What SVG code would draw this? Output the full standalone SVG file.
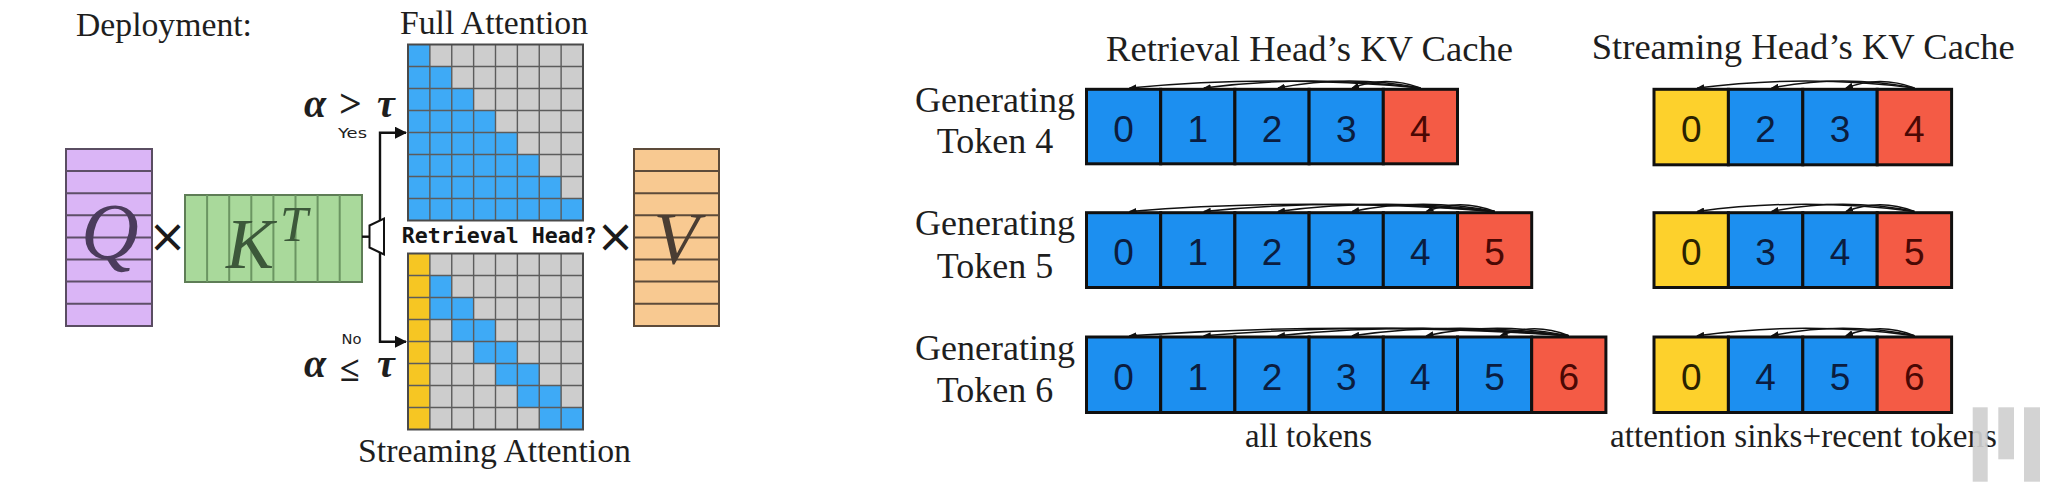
<svg xmlns="http://www.w3.org/2000/svg" width="2045" height="499" viewBox="0 0 2045 499">
<defs>
<style>
.serif{font-family:"Liberation Serif","Times New Roman",serif;fill:#1e1e1e}
.lbl{font-size:33.5px}
.title{font-size:36.4px}
.gen{font-size:36px;text-anchor:middle}
.math{font-family:"Liberation Serif","DejaVu Serif",serif;font-style:italic;font-weight:bold;font-size:40px;fill:#1e1e1e}
.small{font-family:"DejaVu Sans","Liberation Sans",sans-serif;font-size:14px;fill:#1e1e1e}
.times{font-family:"DejaVu Sans","Liberation Sans",sans-serif;font-size:46px;fill:#1a1a1a;text-anchor:middle}
.mono{font-family:"DejaVu Sans Mono","Liberation Mono",monospace;font-weight:bold;font-size:21.6px;fill:#141414}
.big{font-family:"Liberation Serif","Times New Roman",serif;font-style:italic;text-anchor:middle}
.gray{fill:#cdcdcd}
.ab{fill:#3eaaf6}
.ay{fill:#f6c623}
.gl{fill:none;stroke:#5c5c5c;stroke-width:1.4}
.gb{fill:none;stroke:#4a4a4a;stroke-width:2}
.cell{stroke:#101010;stroke-width:3}
.cb{fill:#1c8ff0}
.cr{fill:#f45b45}
.cy{fill:#fdd12c}
.dg{font-family:"Liberation Sans",Arial,sans-serif;font-size:37px;text-anchor:middle}
.db{fill:#0b1d40}
.dr{fill:#4a0804}
.dy{fill:#2a2200}
.arc{fill:none;stroke:#111;stroke-width:1.5;marker-end:url(#ah)}
.conn{fill:none;stroke:#111;stroke-width:2.4}
</style>
<marker id="ah" viewBox="0 0 8 6" refX="7" refY="3" markerWidth="8" markerHeight="6" markerUnits="userSpaceOnUse" orient="auto">
<path d="M0,0 L8,3 L0,6 z" fill="#111"/>
</marker>
<marker id="arr" viewBox="0 0 12 12" refX="11" refY="6" markerWidth="12" markerHeight="12" markerUnits="userSpaceOnUse" orient="auto">
<path d="M0,0 L12,6 L0,12 z" fill="#111"/>
</marker>
</defs>
<rect width="2045" height="499" fill="#ffffff"/>

<text class="serif lbl" x="76" y="36" textLength="176" lengthAdjust="spacingAndGlyphs">Deployment:</text>

<g id="q-matrix">
<rect x="66" y="149" width="86" height="177" fill="#dab5f6" stroke="#5a4d62" stroke-width="2"/>
<path d="M66,171.1H152M66,193.2H152M66,215.3H152M66,237.4H152M66,259.5H152M66,281.6H152M66,303.7H152" stroke="#5e4f68" stroke-width="2"/>
<text class="big" x="110" y="259" font-size="80" fill="#4b3c5c">Q</text>
</g>

<text class="times" x="167.5" y="252">×</text>

<g id="kt-matrix">
<rect x="185" y="195" width="177" height="87" fill="#a9d99b" stroke="#5e7d56" stroke-width="2"/>
<path d="M207.1,195V282M229.2,195V282M251.3,195V282M273.4,195V282M295.5,195V282M317.6,195V282M339.7,195V282" stroke="#6b9562" stroke-width="2"/>
<text font-family="Liberation Serif, Times New Roman, serif" font-style="italic" font-size="72" fill="#3c583a" x="226" y="268">K<tspan font-size="50" dx="6" dy="-27">T</tspan></text>
</g>

<g id="connectors">
<path class="conn" d="M362,236.7H370"/>
<path class="conn" d="M380,220V132.7H406" marker-end="url(#arr)"/>
<path class="conn" d="M380,253V341.7H406" marker-end="url(#arr)"/>
</g>

<g id="router">
<path d="M369.5,225.5 L384,218.5 L384,254.5 L369.5,247.5 Z" fill="#ffffff" stroke="#111" stroke-width="2"/>
</g>

<g id="cond-yes">
<text class="math" x="304" y="117">α</text>
<text class="math" x="339" y="117" style="font-style:normal">&gt;</text>
<text class="math" x="377" y="117">τ</text>
<text class="small" x="338" y="137.5" textLength="29" lengthAdjust="spacingAndGlyphs">Yes</text>
</g>
<g id="cond-no">
<text class="small" x="341.5" y="344.3" textLength="20" lengthAdjust="spacingAndGlyphs">No</text>
<text class="math" x="304" y="376.7">α</text>
<text class="math" x="340" y="380.5" style="font-style:normal;font-size:36px">≤</text>
<text class="math" x="377" y="376.7">τ</text>
</g>

<g id="full-attention">
<text class="serif lbl" x="400" y="34.3" textLength="188" lengthAdjust="spacingAndGlyphs">Full Attention</text>
<rect x="408" y="44.5" width="175" height="176" class="gray"/>
<rect class="ab" x="408" y="44.5" width="21.875" height="22"/>
<rect class="ab" x="408" y="66.5" width="43.75" height="22"/>
<rect class="ab" x="408" y="88.5" width="65.625" height="22"/>
<rect class="ab" x="408" y="110.5" width="87.5" height="22"/>
<rect class="ab" x="408" y="132.5" width="109.375" height="22"/>
<rect class="ab" x="408" y="154.5" width="131.25" height="22"/>
<rect class="ab" x="408" y="176.5" width="153.125" height="22"/>
<rect class="ab" x="408" y="198.5" width="175" height="22"/>
<path class="gl" d="M429.875,44.5V220.5M451.75,44.5V220.5M473.625,44.5V220.5M495.5,44.5V220.5M517.375,44.5V220.5M539.25,44.5V220.5M561.125,44.5V220.5M408,66.5H583M408,88.5H583M408,110.5H583M408,132.5H583M408,154.5H583M408,176.5H583M408,198.5H583"/>
<rect class="gb" x="408" y="44.5" width="175" height="176"/>
</g>

<text class="mono" x="401.7" y="243.3">Retrieval Head?</text>

<g id="streaming-attention">
<rect x="408" y="253.5" width="175" height="176" class="gray"/>
<rect class="ay" x="408" y="253.5" width="21.875" height="176"/>
<rect class="ab" x="429.875" y="275.5" width="21.875" height="22"/>
<rect class="ab" x="429.875" y="297.5" width="43.75" height="22"/>
<rect class="ab" x="451.75" y="319.5" width="43.75" height="22"/>
<rect class="ab" x="473.625" y="341.5" width="43.75" height="22"/>
<rect class="ab" x="495.5" y="363.5" width="43.75" height="22"/>
<rect class="ab" x="517.375" y="385.5" width="43.75" height="22"/>
<rect class="ab" x="539.25" y="407.5" width="43.75" height="22"/>
<path class="gl" d="M429.875,253.5V429.5M451.75,253.5V429.5M473.625,253.5V429.5M495.5,253.5V429.5M517.375,253.5V429.5M539.25,253.5V429.5M561.125,253.5V429.5M408,275.5H583M408,297.5H583M408,319.5H583M408,341.5H583M408,363.5H583M408,385.5H583M408,407.5H583"/>
<rect class="gb" x="408" y="253.5" width="175" height="176"/>
<text class="serif lbl" x="358" y="461.7" textLength="273" lengthAdjust="spacingAndGlyphs">Streaming Attention</text>
</g>

<text class="times" x="615.5" y="252">×</text>

<g id="v-matrix">
<rect x="634" y="149" width="85" height="177" fill="#f8c991" stroke="#5d4b3a" stroke-width="2"/>
<path d="M634,171.1H719M634,193.2H719M634,215.3H719M634,237.4H719M634,259.5H719M634,281.6H719M634,303.7H719" stroke="#5d4b3a" stroke-width="2"/>
<text class="big" x="676" y="264" font-size="74" fill="#4a3d33">V</text>
</g>

<text class="serif title" x="1106" y="61" textLength="407" lengthAdjust="spacingAndGlyphs">Retrieval Head’s KV Cache</text>
<text class="serif title" x="1591.7" y="59.3" textLength="423" lengthAdjust="spacingAndGlyphs">Streaming Head’s KV Cache</text>

<g id="label-4">
<text class="serif gen" x="995" y="111.7">Generating</text>
<text class="serif gen" x="995" y="153.3">Token 4</text>
</g>
<g id="label-5">
<text class="serif gen" x="995" y="235.2">Generating</text>
<text class="serif gen" x="995" y="278">Token 5</text>
</g>
<g id="label-6">
<text class="serif gen" x="995" y="359.5">Generating</text>
<text class="serif gen" x="995" y="402">Token 6</text>
</g>

<g id="retrieval-row-4">
<rect class="cell cb" x="1086.5" y="89.3" width="74.2" height="74.5"/>
<rect class="cell cb" x="1160.7" y="89.3" width="74.2" height="74.5"/>
<rect class="cell cb" x="1234.9" y="89.3" width="74.2" height="74.5"/>
<rect class="cell cb" x="1309.1" y="89.3" width="74.2" height="74.5"/>
<rect class="cell cr" x="1383.3" y="89.3" width="74.2" height="74.5"/>
<text class="dg db" x="1123.6" y="141.7">0</text>
<text class="dg db" x="1197.8" y="141.7">1</text>
<text class="dg db" x="1272" y="141.7">2</text>
<text class="dg db" x="1346.2" y="141.7">3</text>
<text class="dg dr" x="1420.4" y="141.7">4</text>
</g>
<g id="retrieval-row-5">
<rect class="cell cb" x="1086.5" y="212.7" width="74.2" height="74.8"/>
<rect class="cell cb" x="1160.7" y="212.7" width="74.2" height="74.8"/>
<rect class="cell cb" x="1234.9" y="212.7" width="74.2" height="74.8"/>
<rect class="cell cb" x="1309.1" y="212.7" width="74.2" height="74.8"/>
<rect class="cell cb" x="1383.3" y="212.7" width="74.2" height="74.8"/>
<rect class="cell cr" x="1457.5" y="212.7" width="74.2" height="74.8"/>
<text class="dg db" x="1123.6" y="265.2">0</text>
<text class="dg db" x="1197.8" y="265.2">1</text>
<text class="dg db" x="1272" y="265.2">2</text>
<text class="dg db" x="1346.2" y="265.2">3</text>
<text class="dg db" x="1420.4" y="265.2">4</text>
<text class="dg dr" x="1494.6" y="265.2">5</text>
</g>
<g id="retrieval-row-6">
<rect class="cell cb" x="1086.5" y="337" width="74.2" height="75.5"/>
<rect class="cell cb" x="1160.7" y="337" width="74.2" height="75.5"/>
<rect class="cell cb" x="1234.9" y="337" width="74.2" height="75.5"/>
<rect class="cell cb" x="1309.1" y="337" width="74.2" height="75.5"/>
<rect class="cell cb" x="1383.3" y="337" width="74.2" height="75.5"/>
<rect class="cell cb" x="1457.5" y="337" width="74.2" height="75.5"/>
<rect class="cell cr" x="1531.7" y="337" width="74.2" height="75.5"/>
<text class="dg db" x="1123.6" y="389.7">0</text>
<text class="dg db" x="1197.8" y="389.7">1</text>
<text class="dg db" x="1272" y="389.7">2</text>
<text class="dg db" x="1346.2" y="389.7">3</text>
<text class="dg db" x="1420.4" y="389.7">4</text>
<text class="dg db" x="1494.6" y="389.7">5</text>
<text class="dg dr" x="1568.8" y="389.7">6</text>
</g>

<g id="streaming-row-4">
<rect class="cell cy" x="1654" y="89.3" width="74.4" height="75.5"/>
<rect class="cell cb" x="1728.4" y="89.3" width="74.4" height="75.5"/>
<rect class="cell cb" x="1802.8" y="89.3" width="74.4" height="75.5"/>
<rect class="cell cr" x="1877.2" y="89.3" width="74.4" height="75.5"/>
<text class="dg dy" x="1691.2" y="141.7">0</text>
<text class="dg db" x="1765.6" y="141.7">2</text>
<text class="dg db" x="1840" y="141.7">3</text>
<text class="dg dr" x="1914.4" y="141.7">4</text>
</g>
<g id="streaming-row-5">
<rect class="cell cy" x="1654" y="212.7" width="74.4" height="74.8"/>
<rect class="cell cb" x="1728.4" y="212.7" width="74.4" height="74.8"/>
<rect class="cell cb" x="1802.8" y="212.7" width="74.4" height="74.8"/>
<rect class="cell cr" x="1877.2" y="212.7" width="74.4" height="74.8"/>
<text class="dg dy" x="1691.2" y="265.2">0</text>
<text class="dg db" x="1765.6" y="265.2">3</text>
<text class="dg db" x="1840" y="265.2">4</text>
<text class="dg dr" x="1914.4" y="265.2">5</text>
</g>
<g id="streaming-row-6">
<rect class="cell cy" x="1654" y="337" width="74.4" height="75.5"/>
<rect class="cell cb" x="1728.4" y="337" width="74.4" height="75.5"/>
<rect class="cell cb" x="1802.8" y="337" width="74.4" height="75.5"/>
<rect class="cell cr" x="1877.2" y="337" width="74.4" height="75.5"/>
<text class="dg dy" x="1691.2" y="389.7">0</text>
<text class="dg db" x="1765.6" y="389.7">4</text>
<text class="dg db" x="1840" y="389.7">5</text>
<text class="dg dr" x="1914.4" y="389.7">6</text>
</g>

<g id="attention-arcs">
<path class="arc" d="M1420.4,88 Q1275,74 1129.6,88"/>
<path class="arc" d="M1420.4,88 Q1312,74 1203.8,88"/>
<path class="arc" d="M1420.4,88 Q1349,74 1278,88"/>
<path class="arc" d="M1420.4,88 Q1386,75 1352.2,88"/>

<path class="arc" d="M1494.6,211.4 Q1312,197 1129.6,211.4"/>
<path class="arc" d="M1494.6,211.4 Q1349,197 1203.8,211.4"/>
<path class="arc" d="M1494.6,211.4 Q1386,197 1278,211.4"/>
<path class="arc" d="M1494.6,211.4 Q1423,197 1352.2,211.4"/>
<path class="arc" d="M1494.6,211.4 Q1460,198 1426.4,211.4"/>

<path class="arc" d="M1568.8,335.7 Q1349,321 1129.6,335.7"/>
<path class="arc" d="M1568.8,335.7 Q1386,321 1203.8,335.7"/>
<path class="arc" d="M1568.8,335.7 Q1423,321 1278,335.7"/>
<path class="arc" d="M1568.8,335.7 Q1460,321 1352.2,335.7"/>
<path class="arc" d="M1568.8,335.7 Q1497,321 1426.4,335.7"/>
<path class="arc" d="M1568.8,335.7 Q1534,322 1500.6,335.7"/>

<path class="arc" d="M1914.4,88 Q1806,74 1697.2,88"/>
<path class="arc" d="M1914.4,88 Q1843,74 1771.6,88"/>
<path class="arc" d="M1914.4,88 Q1880,75 1846,88"/>

<path class="arc" d="M1914.4,211.4 Q1806,197 1697.2,211.4"/>
<path class="arc" d="M1914.4,211.4 Q1843,197 1771.6,211.4"/>
<path class="arc" d="M1914.4,211.4 Q1880,198 1846,211.4"/>

<path class="arc" d="M1914.4,335.7 Q1806,321 1697.2,335.7"/>
<path class="arc" d="M1914.4,335.7 Q1843,321 1771.6,335.7"/>
<path class="arc" d="M1914.4,335.7 Q1880,322 1846,335.7"/>
</g>

<text class="serif lbl" x="1245" y="446.5" textLength="127" lengthAdjust="spacingAndGlyphs">all tokens</text>
<text class="serif lbl" x="1610" y="447" textLength="387" lengthAdjust="spacingAndGlyphs">attention sinks+recent tokens</text>

<g id="watermark" fill="#cfcfcf" fill-opacity="0.92">
<rect x="1972.7" y="407.3" width="15" height="74.4"/>
<rect x="1998.3" y="407.3" width="15.7" height="52"/>
<rect x="2024" y="407.3" width="16" height="74.4"/>
</g>
</svg>
